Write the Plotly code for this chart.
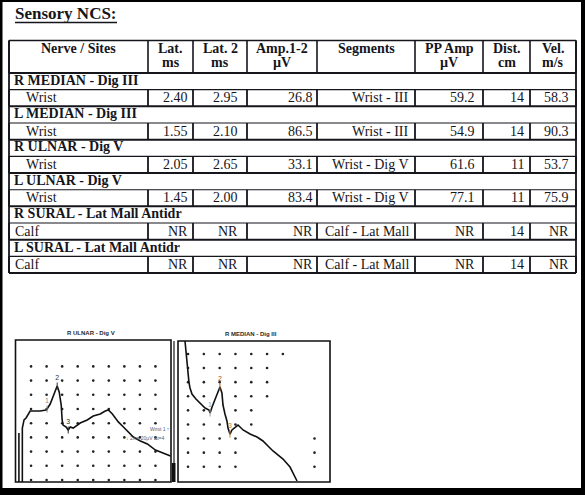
import plotly.graph_objects as go

W, H = 585, 495

# ---------------- table values ----------------
nerves = ["R MEDIAN - Dig III", "L MEDIAN - Dig III", "R ULNAR - Dig V",
          "L ULNAR - Dig V", "R SURAL - Lat Mall Antidr", "L SURAL - Lat Mall Antidr"]
sites = ["Wrist", "Wrist", "Wrist", "Wrist", "Calf", "Calf"]
lat1 = [2.40, 1.55, 2.05, 1.45, None, None]
lat2 = [2.95, 2.10, 2.65, 2.00, None, None]
amp12 = [26.8, 86.5, 33.1, 83.4, None, None]
segments = ["Wrist - III", "Wrist - III", "Wrist - Dig V", "Wrist - Dig V",
            "Calf - Lat Mall", "Calf - Lat Mall"]
pp_amp = [59.2, 54.9, 61.6, 77.1, None, None]
dist = [14, 14, 11, 11, 14, 14]
vel = [58.3, 90.3, 53.7, 75.9, None, None]
head_top = ["Nerve / Sites", "Lat.", "Lat. 2", "Amp.1-2", "Segments", "PP Amp", "Dist.", "Vel."]
head_bot = ["", "ms", "ms", "µV", "", "µV", "cm", "m/s"]

# ---------------- waveforms (ms, divisions) ----------------
ulnar_title = "R ULNAR - Dig V"
ulnar_t = [0.22, 0.22, None, 0.44, 0.44, 0.55, 0.68, 0.94, 1.58, 1.97, 2.03, 2.23, 2.42,
           2.61, 2.68, 2.81, 2.94, 3.00, 3.06, 3.26, 3.39, 3.52, 3.71, 4.16, 4.61, 5.00, 5.45,
           5.77, 5.97, 6.23, 6.61, 6.94, 7.19, 7.58, 8.03, 8.48, 9.00, 9.45, 9.97]
ulnar_v = [0.0, 3.45, None, 0.0, 3.80, 4.37, 4.51, 5.00, 5.00, 5.07, 5.14, 5.49, 5.99,
           6.62, 6.76, 6.34, 5.42, 4.37, 4.01, 3.87, 3.66, 3.87, 3.80, 4.15, 4.37, 4.65, 4.79,
           5.00, 5.07, 4.79, 4.23, 3.87, 3.59, 3.17, 2.89, 2.68, 2.25, 2.04, 1.83]
ulnar_mark_t = [2.03, 2.68, 3.39]
ulnar_mark_v = [5.14, 6.76, 3.66]

median_title = "R MEDIAN - Dig III"
median_t = [0.46, 0.53, 0.59, 0.66, 0.72, 0.79, 0.92, 1.18, 1.45, 1.78, 2.04, 2.11, 2.24, 2.43,
            2.63, 2.76, 2.89, 2.96, 3.09, 3.22, 3.29, 3.42, 3.55, 3.75, 3.95, 4.28, 4.74, 5.20,
            5.59, 5.92, 6.25, 6.91, 7.37, 7.83]
median_v = [10.0, 9.15, 8.51, 7.80, 7.09, 6.67, 6.24, 5.89, 5.60, 5.25, 5.11, 4.89, 5.32, 5.82,
            6.31, 6.74, 6.31, 5.46, 4.82, 4.33, 3.83, 3.40, 3.69, 3.90, 4.04, 3.69, 3.40, 3.19,
            2.91, 2.55, 2.20, 1.63, 1.06, 0.07]
median_mark_t = [2.11, 2.76, 3.42]
median_mark_v = [4.89, 6.74, 3.40]
mark_names = ["1", "2", "3"]

# ---------------- layout constants (px) ----------------
INK = "#15151c"
SERIF = "Liberation Serif"
col_edges = [9, 148, 193, 247, 317, 415, 483, 530, 576]
pads = [0, 4.5, 8, 3, 5, 7, 5, 6]
T_TOP, T_HEAD, ROW_H = 40.5, 73, 16.67
SITE_INDENT = {"Wrist": 16, "Calf": 5}

fig = go.Figure()
shapes, annos = [], []


def hline(x0, x1, y, w=1.2):
    shapes.append(dict(type="line", xref="x", yref="y", x0=x0, x1=x1, y0=y, y1=y,
                       line=dict(color=INK, width=w)))


def vline(x, y0, y1, w=1.2):
    shapes.append(dict(type="line", xref="x", yref="y", x0=x, x1=x, y0=y0, y1=y1,
                       line=dict(color=INK, width=w)))


def txt(x, y, s, anchor="left", size=14, bold=False, family=SERIF, color=INK, **kw):
    annos.append(dict(x=x, y=y, xref=kw.pop("xref", "x"), yref=kw.pop("yref", "y"),
                      text="<b>%s</b>" % s if bold else s, showarrow=False,
                      xanchor=anchor, yanchor="middle", borderpad=0,
                      font=dict(family=family, size=size, color=color), **kw))


def fmt(v, nd):
    return "NR" if v is None else f"{v:.{nd}f}"


# title
txt(14, 13.5, "Sensory NCS:", size=17, bold=True)
hline(15, 117, 22.5, 1.3)

# header
hline(col_edges[0], col_edges[-1], T_TOP, 1.5)
hline(col_edges[0], col_edges[-1], T_HEAD, 2)
for e in col_edges:
    vline(e, T_TOP, T_HEAD, 1.6)
for i in range(8):
    cx = (col_edges[i] + col_edges[i + 1]) / 2
    txt(cx, 48, head_top[i], anchor="center", bold=True)
    if head_bot[i]:
        txt(cx, 62.5, head_bot[i], anchor="center", bold=True)

bottom = T_HEAD + ROW_H * 2 * len(nerves)
vline(col_edges[0], T_TOP, bottom, 1.8)
vline(col_edges[-1], T_TOP, bottom, 1.8)

for i in range(len(nerves)):
    yg = T_HEAD + ROW_H * 2 * i
    yd = yg + ROW_H
    txt(13, yg + 7.3, nerves[i], bold=True)
    hline(col_edges[0], col_edges[-1], yd, 1.1)
    hline(col_edges[0], col_edges[-1], yd + ROW_H, 2)
    for e in col_edges:
        vline(e, yd, yd + ROW_H, 1.8)
    cells = [fmt(lat1[i], 2), fmt(lat2[i], 2), fmt(amp12[i], 1), segments[i],
             fmt(pp_amp[i], 1), str(dist[i]), fmt(vel[i], 1)]
    cy = yd + 8
    txt(col_edges[0] + SITE_INDENT[sites[i]], cy, sites[i])
    for j, c in enumerate(cells, start=1):
        txt(col_edges[j + 1] - pads[j], cy, c, anchor="right")

# ---------------- waveform panels ----------------
panels = [
    dict(ax="2", box=(15.5, 171, 340, 482), title=ulnar_title, tx=91, ty=333,
         t=ulnar_t, v=ulnar_v, mt=ulnar_mark_t, mv=ulnar_mark_v,
         mcol=["#8a8a8a", "#333333", "#333333"]),
    dict(ax="3", box=(178, 330, 341, 482), title=median_title, tx=251, ty=334,
         t=median_t, v=median_v, mt=median_mark_t, mv=median_mark_v,
         mcol=["#9a9a9a", "#a0581c", "#c07a30"]),
]

ulnar_dots = [(c, r) for c in range(1, 10) for r in range(9)]
median_cols = [list(range(7)), list(range(6)), list(range(6)), [0, 1, 3, 4, 5],
               [0, 1, 3, 4], [0, 1, 2, 3, 4], [0, 1, 2, 3, 8], [0, 1, 2, 3, 8], [0, 1, 2, 3, 8]]
median_dots = [(c, r) for r, cols in enumerate(median_cols) for c in cols]

for p, dots, (dx0, dsx, dy0, dsy) in zip(
        panels, [ulnar_dots, median_dots],
        [(0.0, 1.0, 0.14, 1.0), (0.66, 1.04, 9.08, -1.0)]):
    a = p["ax"]
    l, r, t, b = p["box"]
    fig.add_trace(go.Scatter(
        x=[dx0 + dsx * c for c, _ in dots], y=[dy0 + dsy * rr for _, rr in dots],
        mode="markers", marker=dict(size=2.6, color="#222"), hoverinfo="skip",
        xaxis="x" + a, yaxis="y" + a, showlegend=False))
    fig.add_trace(go.Scatter(x=p["t"], y=p["v"], mode="lines", connectgaps=False,
                             line=dict(color="#111", width=1.6), xaxis="x" + a,
                             yaxis="y" + a, showlegend=False))
    fig.add_trace(go.Scatter(x=p["mt"], y=p["mv"], mode="markers+text", text=mark_names,
                             textposition="top center",
                             textfont=dict(size=7, family="Liberation Sans", color=p["mcol"]),
                             marker=dict(symbol="line-ns", size=5, color=p["mcol"],
                                         line=dict(width=1, color=p["mcol"])),
                             xaxis="x" + a, yaxis="y" + a, showlegend=False))
    fig.update_layout(**{
        "xaxis" + a: dict(domain=[l / W, r / W], range=[0, 10], visible=False, fixedrange=True),
        "yaxis" + a: dict(domain=[(H - b) / H, (H - t) / H], range=[0, 10], visible=False,
                          fixedrange=True),
    })
    shapes.append(dict(type="rect", xref="x%s domain" % a, yref="y%s domain" % a,
                       x0=0, x1=1, y0=0, y1=1, line=dict(color="#111", width=1.6)))
    txt(p["tx"], p["ty"], "<b>%s</b>" % p["title"], anchor="center", size=6,
        family="Liberation Sans", color="#2a2a2a")

# cursor readout on the ulnar trace
txt(9.25, 3.73, "Wrist 1 ↑", anchor="center", size=5, family="Liberation Sans",
    color="#55607a", xref="x2", yref="y2")
txt(8.35, 3.1, "↓ 2ms 20µV Δt=4", anchor="center", size=5, family="Liberation Sans",
    color="#55607a", xref="x2", yref="y2")

# separator between the two traces
vline(174, 341, 482, 1.2)
shapes.append(dict(type="rect", xref="x", yref="y", x0=172, x1=175.5, y0=463, y1=482,
                   fillcolor="#111", line=dict(width=0)))

# page frame (paper fractions, y measured from the bottom)
for x0, x1, y0, y1 in [(0, 1, 1 - 2 / H, 1), (0, 2.5 / W, 0, 1),
                       (581 / W, 1, 0, 1), (0, 1, 0, 7 / H)]:
    shapes.append(dict(type="rect", xref="paper", yref="paper", x0=x0, x1=x1, y0=y0, y1=y1,
                       fillcolor="#000", line=dict(width=0), layer="above"))

fig.update_layout(
    width=W, height=H, margin=dict(l=0, r=0, t=0, b=0, pad=0),
    paper_bgcolor="white", plot_bgcolor="white",
    xaxis=dict(range=[0, W], visible=False, fixedrange=True),
    yaxis=dict(range=[H, 0], visible=False, fixedrange=True),
    shapes=shapes, annotations=annos, showlegend=False,
)
fig.write_html("out.html", config={"displayModeBar": False},
               post_script="document.body.style.margin='0px';")
